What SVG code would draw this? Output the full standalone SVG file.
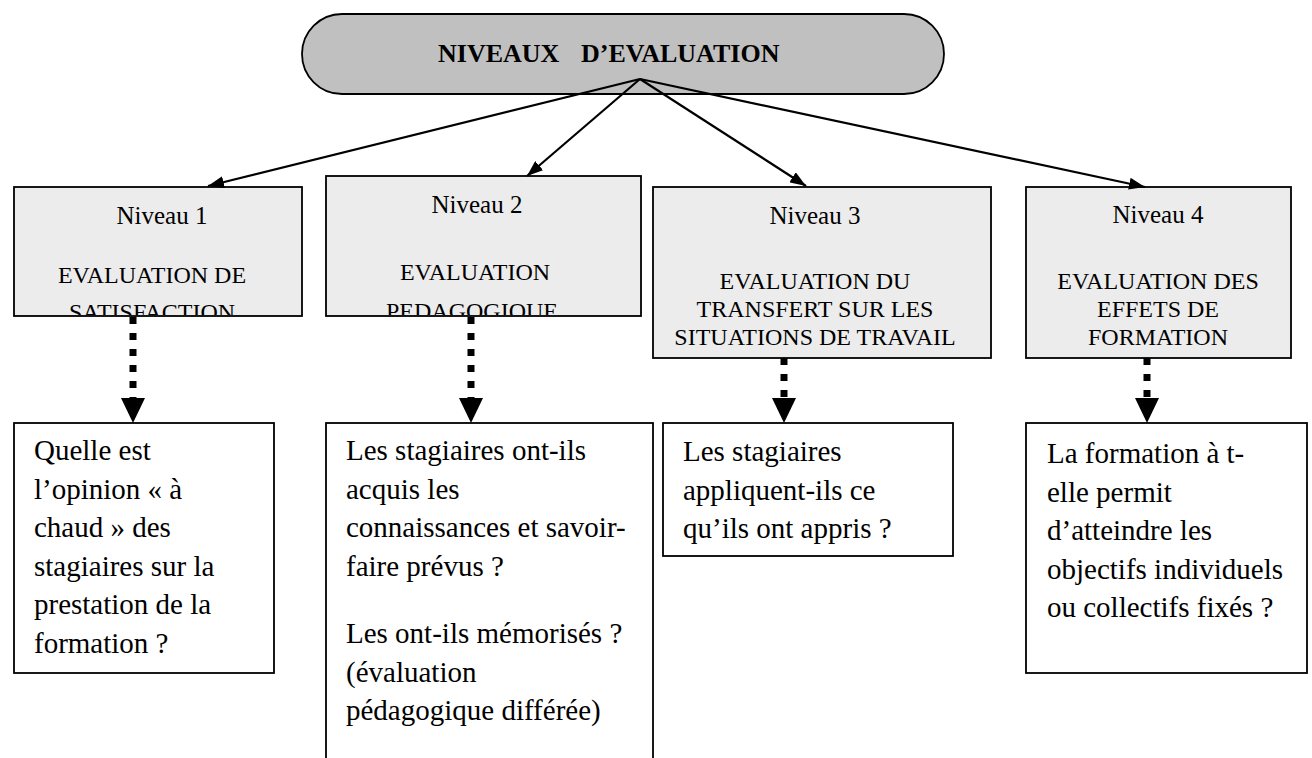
<svg xmlns="http://www.w3.org/2000/svg" width="1312" height="758" viewBox="0 0 1312 758">
  <style>
    .t { font-family: "Liberation Serif", "Times New Roman", serif; fill: #000; }
    .title { font-size: 26px; font-weight: bold; }
    .lvl { font-size: 25px; text-anchor: middle; }
    .cap { font-size: 24px; text-anchor: middle; }
    .q { font-size: 29px; }
    .box { stroke: #000; stroke-width: 1.8; }
    .lv { fill: #ececec; }
    .qb { fill: #fff; }
    .link { stroke: #000; stroke-width: 2.2; fill: none; }
    .dots { stroke: #000; stroke-width: 7; stroke-dasharray: 7 9; fill: none; }
  </style>
  <defs>
    <marker id="head" markerUnits="userSpaceOnUse" markerWidth="18" markerHeight="12" refX="16" refY="6" orient="auto">
      <path d="M0,0 L16,6 L0,12 Z" fill="#000"/>
    </marker>
    <marker id="bighead" markerUnits="userSpaceOnUse" markerWidth="26" markerHeight="24" refX="0" refY="12" orient="auto">
      <path d="M0,0 L25,12 L0,24 Z" fill="#000"/>
    </marker>
    <clipPath id="clip1"><rect x="14" y="187" width="288" height="128"/></clipPath>
    <clipPath id="clip2"><rect x="326" y="176" width="315" height="139"/></clipPath>
  </defs>

  <!-- root -->
  <g id="root">
    <rect class="box" x="302" y="14" width="642" height="80" rx="40" ry="40" fill="#c0c0c0"/>
    <text class="t title" x="438" y="62">NIVEAUX</text>
    <text class="t title" x="581" y="62">D’EVALUATION</text>
  </g>

  <!-- level boxes -->
  <g id="niveau1">
    <rect class="box lv" x="14" y="187" width="288" height="129"/>
    <g clip-path="url(#clip1)">
      <text class="t lvl" x="162" y="224">Niveau 1</text>
      <text class="t cap" x="152" y="283">EVALUATION DE</text>
      <text class="t cap" x="152" y="320">SATISFACTION</text>
    </g>
  </g>
  <g id="niveau2">
    <rect class="box lv" x="326" y="176" width="315" height="140"/>
    <g clip-path="url(#clip2)">
      <text class="t lvl" x="477" y="213">Niveau 2</text>
      <text class="t cap" x="475" y="280">EVALUATION</text>
      <text class="t cap" x="472" y="319">PEDAGOGIQUE</text>
    </g>
  </g>
  <g id="niveau3">
    <rect class="box lv" x="653" y="187" width="338" height="171"/>
    <text class="t lvl" x="815" y="224">Niveau 3</text>
    <text class="t cap" x="815" y="289">EVALUATION DU</text>
    <text class="t cap" x="815" y="317">TRANSFERT SUR LES</text>
    <text class="t cap" x="815" y="345">SITUATIONS DE TRAVAIL</text>
  </g>
  <g id="niveau4">
    <rect class="box lv" x="1026" y="187" width="265" height="171"/>
    <text class="t lvl" x="1158" y="223">Niveau 4</text>
    <text class="t cap" x="1158" y="289">EVALUATION DES</text>
    <text class="t cap" x="1158" y="317">EFFETS DE</text>
    <text class="t cap" x="1158" y="345">FORMATION</text>
  </g>

  <!-- question boxes -->
  <g id="question1">
    <rect class="box qb" x="14" y="423" width="260" height="250"/>
    <text class="t q" x="34" y="460">Quelle est</text>
    <text class="t q" x="34" y="498.5">l’opinion « à</text>
    <text class="t q" x="34" y="537">chaud » des</text>
    <text class="t q" x="34" y="575.5">stagiaires sur la</text>
    <text class="t q" x="34" y="614">prestation de la</text>
    <text class="t q" x="34" y="652.5">formation ?</text>
  </g>
  <g id="question2">
    <rect class="box qb" x="326" y="423" width="327" height="350"/>
    <text class="t q" x="346" y="460">Les stagiaires ont-ils</text>
    <text class="t q" x="346" y="498.5">acquis les</text>
    <text class="t q" x="346" y="537">connaissances et savoir-</text>
    <text class="t q" x="346" y="575.5">faire prévus ?</text>
    <text class="t q" x="346" y="643">Les ont-ils mémorisés ?</text>
    <text class="t q" x="346" y="681.5">(évaluation</text>
    <text class="t q" x="346" y="720">pédagogique différée)</text>
  </g>
  <g id="question3">
    <rect class="box qb" x="663" y="423" width="290" height="133"/>
    <text class="t q" x="683" y="461">Les stagiaires</text>
    <text class="t q" x="683" y="499.5">appliquent-ils ce</text>
    <text class="t q" x="683" y="538">qu’ils ont appris ?</text>
  </g>
  <g id="question4">
    <rect class="box qb" x="1026" y="423" width="281" height="250"/>
    <text class="t q" x="1047" y="463">La formation à t-</text>
    <text class="t q" x="1047" y="501.5">elle permit</text>
    <text class="t q" x="1047" y="540">d’atteindre les</text>
    <text class="t q" x="1047" y="578.5">objectifs individuels</text>
    <text class="t q" x="1047" y="617">ou collectifs fixés ?</text>
  </g>

  <!-- connectors -->
  <g id="connectors">
    <line class="link" x1="640" y1="79" x2="208" y2="186" marker-end="url(#head)"/>
    <line class="link" x1="640" y1="79" x2="527" y2="176" marker-end="url(#head)"/>
    <line class="link" x1="640" y1="79" x2="806" y2="186" marker-end="url(#head)"/>
    <line class="link" x1="640" y1="79" x2="1145" y2="187" marker-end="url(#head)"/>

    <line class="dots" x1="133" y1="317" x2="133" y2="398" marker-end="url(#bighead)"/>
    <line class="dots" x1="471" y1="317" x2="471" y2="398" marker-end="url(#bighead)"/>
    <line class="dots" x1="784" y1="358" x2="784" y2="398" marker-end="url(#bighead)"/>
    <line class="dots" x1="1147" y1="358" x2="1147" y2="398" marker-end="url(#bighead)"/>
  </g>
</svg>
